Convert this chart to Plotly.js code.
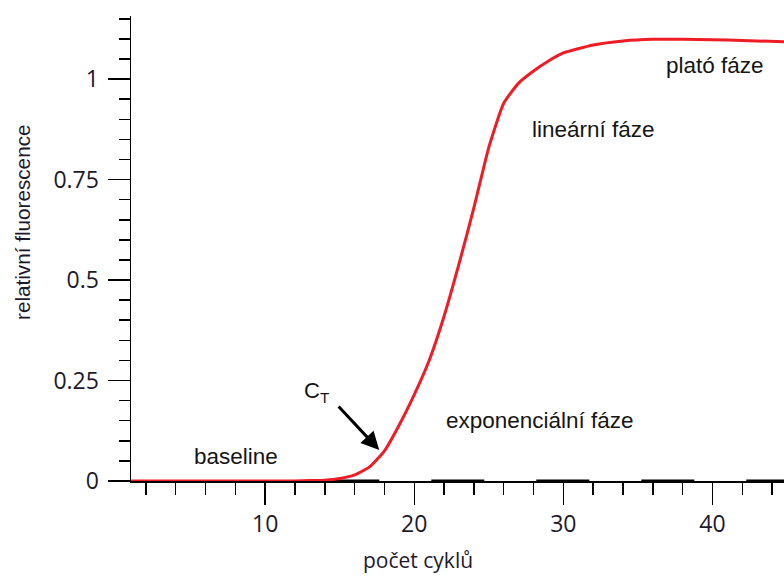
<!DOCTYPE html>
<html>
<head>
<meta charset="utf-8">
<script src="https://cdn.plot.ly/plotly-3.0.1.min.js"></script>
<style>html,body{margin:0;padding:0;background:#fff;}#chart{width:784px;height:576px;}</style>
</head>
<body>
<div id="chart"></div>
<script>
// Amplification curve (cycle number vs relative fluorescence)
const cycles = [1, 2, 4, 6, 8, 10, 12, 13, 14, 15, 16, 17, 18, 19, 20, 21, 22, 23, 24, 25, 26, 27, 28, 29, 30, 32, 34, 36, 38, 40, 42, 44.8];
const fluorescence = [0, 0, 0, 0, 0, 0, 0, 0.001, 0.002, 0.006, 0.015, 0.035, 0.075, 0.14, 0.215, 0.3, 0.41, 0.54, 0.68, 0.83, 0.94, 0.99, 1.02, 1.045, 1.065, 1.085, 1.095, 1.099, 1.099, 1.098, 1.096, 1.093];

// dashed segments drawn along the baseline
const dashX = [14.1, 44.8];
const dashY = [0, 0];

const xTitle = 'počet cyklů';
const yTitle = 'relativní fluorescence';

const phaseLabels = ['baseline', 'exponenciální fáze', 'lineární fáze', 'plató fáze'];
const phaseX = [8.05, 28.4, 32.0, 40.2];
const phaseY = [0.06, 0.15, 0.875, 1.035];

const ctLabel = 'C<sub>T</sub>';
const ctLabelPos = [13.5, 0.222];
const ctPoint = [17.65, 0.077];

const textFont = {family: 'Liberation Sans, Arial, sans-serif', size: 22.5, color: '#151515'};
const tickFont = {family: 'Open Sans, sans-serif', size: 23, color: '#1c1a2a'};

const traces = [
  {x: dashX, y: dashY, mode: 'lines', line: {color: '#000', width: 3, dash: '53px,52px'}, hoverinfo: 'skip', cliponaxis: false, showlegend: false},
  {x: cycles, y: fluorescence, mode: 'lines', line: {color: '#ee1c25', width: 3, shape: 'spline', smoothing: 0.5}, cliponaxis: false, showlegend: false}
];

const annotations = phaseLabels.map((t, i) => ({
  x: phaseX[i], y: phaseY[i], xref: 'x', yref: 'y', text: t, showarrow: false, font: textFont
}));
annotations.push({x: ctLabelPos[0], y: ctLabelPos[1], xref: 'x', yref: 'y', text: ctLabel, showarrow: false, font: {family: textFont.family, size: 22, color: '#151515'}});
annotations.push({x: ctPoint[0], y: ctPoint[1], xref: 'x', yref: 'y', text: '', showarrow: true, arrowhead: 2, arrowsize: 1.2, arrowwidth: 3, arrowcolor: '#000', ax: -42, ay: -45, standoff: 0});
annotations.push({x: 22, y: 223, xref: 'paper', yref: 'paper', text: yTitle, showarrow: false, textangle: -90, font: {family: 'Liberation Sans, Arial, sans-serif', size: 20.7, color: '#1e1a2e'}, yanchor: 'middle'});
annotations.push({x: 418, y: 576, xref: 'paper', yref: 'paper', text: xTitle, showarrow: false, font: {family: 'Open Sans, sans-serif', size: 21, color: '#1e1a2e'}, yanchor: 'bottom'});

// convert pixel-placed titles to paper coords
const L = 131, R = 0, T = 16, B = 95, W = 784, H = 576;
annotations.forEach(a => {
  if (a.xref === 'paper') {
    a.x = (a.x - L) / (W - L - R);
    a.y = (H - B - a.y) / (H - T - B);
    a.xanchor = 'center';
  }
});

const layout = {
  width: W, height: H,
  margin: {l: L, r: R, t: T, b: B, pad: 0},
  paper_bgcolor: '#fff', plot_bgcolor: '#fff',
  showlegend: false,
  xaxis: {
    range: [1, 44.8], tick0: 0, dtick: 10, ticks: 'outside', ticklen: 22, tickwidth: 1.5, tickcolor: '#000',
    showline: true, linecolor: '#000', linewidth: 1.5, showgrid: false, zeroline: false,
    tickfont: tickFont, layer: 'below traces',
    minor: {dtick: 2, tick0: 0, ticks: 'outside', ticklen: 12, tickwidth: 1.5, tickcolor: '#000', showgrid: false}
  },
  yaxis: {
    range: [0, 1.157], tick0: 0, dtick: 0.25, ticks: 'outside', ticklen: 22, tickwidth: 1.5, tickcolor: '#000',
    showline: true, linecolor: '#000', linewidth: 1.5, showgrid: false, zeroline: false,
    tickfont: tickFont, layer: 'below traces', ticklabelstandoff: 4,
    minor: {dtick: 0.05, tick0: 0, ticks: 'outside', ticklen: 11, tickwidth: 1.5, tickcolor: '#000', showgrid: false}
  },
  annotations: annotations
};

Plotly.newPlot('chart', traces, layout, {staticPlot: true});
</script>
</body>
</html>
